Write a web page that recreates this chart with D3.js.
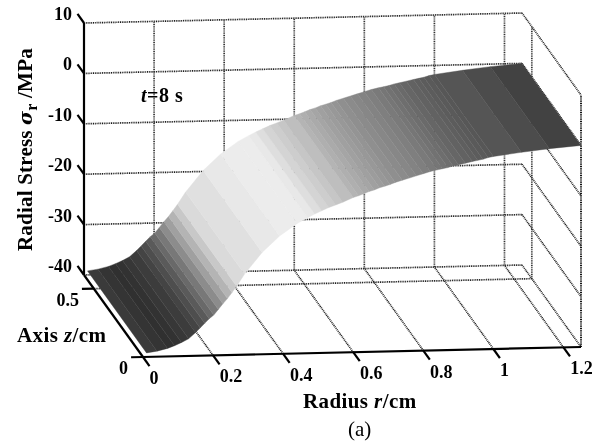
<!DOCTYPE html>
<html>
<head>
<meta charset="utf-8">
<script src="https://cdn.jsdelivr.net/npm/d3@7/dist/d3.min.js"></script>
<style>
  html, body { margin: 0; padding: 0; background: #fff; }
  svg { display: block; filter: blur(0.45px); }
  text { font-family: "Liberation Serif", serif; fill: #000; font-weight: bold; }
</style>
</head>
<body>
<svg id="chart" width="600" height="446"></svg>
<script>
// Values
const radius = [0.01, 0.04, 0.07, 0.09, 0.11, 0.13, 0.15, 0.163, 0.176, 0.189, 0.202, 0.215, 0.228, 0.241, 0.254, 0.267,
  0.29, 0.34, 0.39, 0.44, 0.47, 0.49, 0.51, 0.53, 0.55, 0.57,
  0.60, 0.615, 0.63, 0.645, 0.66, 0.675, 0.69, 0.705, 0.72, 0.74, 0.76, 0.78, 0.80, 0.82, 0.84, 0.855, 0.87, 0.885, 0.90,
  0.92, 0.94, 0.955, 0.97, 0.985, 1.0, 1.08, 1.16, 1.25];
const stress = [-39.2, -38.9, -38.4, -37.9, -37.3, -36.6, -35.4, -34.5, -33.6, -32.7, -32, -30.9, -29.8, -28.8, -27.6, -26.4,
  -24, -19.8, -16.6, -14.2, -13.1, -12.4, -11.8, -11.2, -10.7, -10.2,
  -9.3, -9.0, -8.6, -8.2, -7.9, -7.5, -7.2, -6.9, -6.5, -6.1, -5.7, -5.3, -4.9, -4.5, -4.2, -4.0, -3.8, -3.5, -3.3,
  -3.0, -2.7, -2.5, -2.3, -2.0, -1.8, -1.1, -0.5, 0];
const shade = [58, 52, 48, 50, 55, 60, 68, 78, 90, 105, 120, 140, 160, 180, 200, 218,
  224, 232, 236, 236, 232, 222, 212, 205, 198, 190,
  180, 175, 170, 165, 160, 156, 152, 148, 143, 139, 135, 131, 127, 122, 118, 114, 110, 106, 102,
  98, 95, 92, 90, 87, 85, 76, 66, 62];

const stressTicks = [10, 0, -10, -20, -30, -40];
const radiusTicks = [0, 0.2, 0.4, 0.6, 0.8, 1, 1.2];
const axisTicks = [0, 0.5];

const svg = d3.select("#chart");

// the box is a skewed parallelogram, three scales mapped to 0..1 then combined
const rScale = d3.scaleLinear().domain([0, 1.25]).range([0, 1]);
const zScale = d3.scaleLinear().domain([0, 0.6]).range([0, 1]);
const sScale = d3.scaleLinear().domain([-40, 10]).range([0, 1]);

function project(r, z, s) {
  const a = rScale(r), b = zScale(z), c = sScale(s);
  return [143 + 438 * a - 59 * b, 357 - 10 * a - 82 * b - 252 * c];
}

const rMax = 1.25, zMax = 0.6, sMin = -40, sMax = 10;

// 1. Dotted box grid
const grid = svg.append("g");
function dotted(p, q, w, col) {
  grid.append("line")
    .attr("x1", p[0]).attr("y1", p[1]).attr("x2", q[0]).attr("y2", q[1])
    .attr("stroke", col || "#1a1a1a").attr("stroke-width", w || 1.7)
    .attr("stroke-dasharray", "1,0.8");
}

stressTicks.forEach(s => {
  dotted(project(0, zMax, s), project(rMax, zMax, s));
  dotted(project(rMax, zMax, s), project(rMax, 0, s), 1.7, "#222");
});
radiusTicks.filter(r => r > 0).forEach(r => {
  dotted(project(r, zMax, sMin), project(r, zMax, sMax), 1.7, "#333");
  dotted(project(r, 0, sMin), project(r, zMax, sMin), 1.7, "#222");
});
dotted(project(rMax, 0.5, sMin), project(rMax, 0.5, sMax), 1.7, "#333");
dotted(project(rMax, 0, sMin), project(rMax, 0, sMax), 2, "#111");
dotted(project(0, 0.5, sMin), project(rMax, 0.5, sMin));

// 2. Surface, one quad per band
const surface = svg.append("g");
d3.pairs(d3.range(radius.length)).forEach(([i, j]) => {
  const corners = [
    project(radius[i], 0, stress[i]),
    project(radius[j], 0, stress[j]),
    project(radius[j], zMax, stress[j]),
    project(radius[i], zMax, stress[i])
  ];
  const g = shade[i];
  surface.append("polygon")
    .attr("points", corners.map(c => c.join(",")).join(" "))
    .attr("fill", d3.rgb(g, g, g))
    .attr("stroke", d3.rgb(g, g, g))
    .attr("stroke-width", 0.4);
});

// 3. Solid axes and ticks
const axes = svg.append("g").attr("stroke", "#000").attr("stroke-width", 2.2).attr("fill", "none");
function solid(p, q) {
  axes.append("line").attr("x1", p[0]).attr("y1", p[1]).attr("x2", q[0]).attr("y2", q[1]);
}
solid(project(0, zMax, sMin), project(0, zMax, sMax));
solid(project(0, 0, sMin), project(rMax, 0, sMin));
solid(project(0, 0, sMin), project(0, zMax, sMin));

stressTicks.forEach(s => solid(project(0, zMax, s), project(0, zMax + 0.066, s)));
radiusTicks.forEach(r => solid(project(r, 0, sMin), project(r, -0.066, sMin)));
axisTicks.forEach(z => solid(project(0, z, sMin), project(-0.034, z, sMin)));

// 4. Tick labels
const labels = svg.append("g").attr("font-size", 18);
stressTicks.forEach(s => {
  const p = project(0, zMax, s);
  labels.append("text").attr("x", 72).attr("y", p[1] - 3)
    .attr("text-anchor", "end").text(s);
});
radiusTicks.forEach(r => {
  const p = project(r, 0, sMin);
  const txt = String(r);
  labels.append("text")
    .attr("x", p[0] + (txt.length === 1 ? 11 : 18))
    .attr("y", p[1] + 27)
    .attr("text-anchor", "middle").text(txt);
});
axisTicks.forEach(z => {
  const p = project(-0.034, z, sMin);
  labels.append("text").attr("x", p[0] - 3).attr("y", p[1] + 17)
    .attr("text-anchor", "end").text(z);
});

// 5. Titles
const yTitle = svg.append("text")
  .attr("transform", "translate(32,251) rotate(-90)")
  .attr("font-size", 21)
  .style("letter-spacing", "0.2px");
yTitle.append("tspan").text("Radial Stress ");
yTitle.append("tspan").attr("font-style", "italic").attr("font-family", "'DejaVu Serif'").attr("font-size", 19).text("σ");
yTitle.append("tspan").attr("dy", 5).attr("font-size", 16).text("r");
yTitle.append("tspan").attr("dy", -5).text(" /MPa");

const tLabel = svg.append("text").attr("x", 141).attr("y", 102).attr("font-size", 20).style("letter-spacing", "0.5px");
tLabel.append("tspan").attr("font-style", "italic").text("t");
tLabel.append("tspan").text("=8 s");

const zTitle = svg.append("text").attr("x", 17).attr("y", 342).attr("font-size", 21).style("letter-spacing", "0.4px");
zTitle.append("tspan").text("Axis ");
zTitle.append("tspan").attr("font-style", "italic").text("z");
zTitle.append("tspan").text("/cm");

const rTitle = svg.append("text").attr("x", 303).attr("y", 408).attr("font-size", 21).style("letter-spacing", "0.4px");
rTitle.append("tspan").text("Radius ");
rTitle.append("tspan").attr("font-style", "italic").text("r");
rTitle.append("tspan").text("/cm");

svg.append("text").attr("x", 348).attr("y", 436).attr("font-size", 21)
  .style("font-weight", "normal").text("(a)");
</script>
</body>
</html>
